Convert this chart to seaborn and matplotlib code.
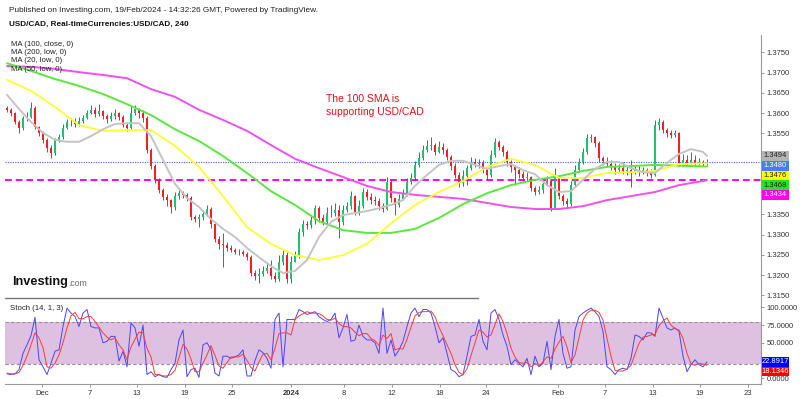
import numpy as np
import matplotlib.pyplot as plt
import seaborn as sns
from matplotlib.patches import Rectangle
from matplotlib.lines import Line2D
from matplotlib.ticker import FormatStrFormatter


# USD/CAD 4H candles (3 candles per trading day)

first_open = 1.3612
close = [
    1.3608, 1.3600, 1.3578, 1.3563, 1.3588, 1.3590, 1.3612, 1.3565, 1.3551, 1.3534,
    1.3514, 1.3501, 1.3534, 1.3541, 1.3563, 1.3578, 1.3578, 1.3573, 1.3580, 1.3588,
    1.3600, 1.3608, 1.3598, 1.3605, 1.3593, 1.3585, 1.3593, 1.3600, 1.3590, 1.3570,
    1.3563, 1.3600, 1.3610, 1.3600, 1.3588, 1.3509, 1.3469, 1.3435, 1.3410, 1.3393,
    1.3385, 1.3368, 1.3395, 1.3402, 1.3398, 1.3390, 1.3343, 1.3338, 1.3343, 1.3351,
    1.3363, 1.3326, 1.3289, 1.3277, 1.3274, 1.3267, 1.3262, 1.3257, 1.3257, 1.3252,
    1.3244, 1.3205, 1.3198, 1.3203, 1.3210, 1.3217, 1.3198, 1.3190, 1.3232, 1.3249,
    1.3190, 1.3232, 1.3249, 1.3306, 1.3326, 1.3323, 1.3336, 1.3365, 1.3341, 1.3331,
    1.3353, 1.3353, 1.3361, 1.3331, 1.3361, 1.3370, 1.3395, 1.3356, 1.3370, 1.3405,
    1.3393, 1.3385, 1.3383, 1.3370, 1.3363, 1.3430, 1.3390, 1.3373, 1.3388, 1.3400,
    1.3430, 1.3440, 1.3472, 1.3489, 1.3509, 1.3519, 1.3521, 1.3504, 1.3516, 1.3509,
    1.3491, 1.3469, 1.3447, 1.3427, 1.3444, 1.3464, 1.3479, 1.3474, 1.3477, 1.3459,
    1.3447, 1.3496, 1.3529, 1.3516, 1.3504, 1.3479, 1.3467, 1.3459, 1.3449, 1.3440,
    1.3442, 1.3415, 1.3405, 1.3410, 1.3425, 1.3432, 1.3365, 1.3442, 1.3395, 1.3383,
    1.3375, 1.3422, 1.3459, 1.3479, 1.3504, 1.3538, 1.3541, 1.3526, 1.3489, 1.3482,
    1.3474, 1.3467, 1.3459, 1.3464, 1.3457, 1.3459, 1.3454, 1.3459, 1.3454, 1.3459,
    1.3452, 1.3447, 1.3570, 1.3578, 1.3558, 1.3551, 1.3546, 1.3551, 1.3477, 1.3484,
    1.3477, 1.3484, 1.3477, 1.3479, 1.3474, 1.3480]
high = [
    1.3617, 1.3612, 1.3603, 1.3583, 1.3593, 1.3603, 1.3627, 1.3617, 1.3568, 1.3556,
    1.3538, 1.3521, 1.3538, 1.3548, 1.3573, 1.3585, 1.3588, 1.3588, 1.3590, 1.3595,
    1.3608, 1.3620, 1.3615, 1.3622, 1.3608, 1.3598, 1.3603, 1.3610, 1.3603, 1.3595,
    1.3578, 1.3617, 1.3620, 1.3612, 1.3608, 1.3593, 1.3514, 1.3474, 1.3440, 1.3415,
    1.3400, 1.3388, 1.3405, 1.3410, 1.3407, 1.3402, 1.3395, 1.3348, 1.3351, 1.3361,
    1.3373, 1.3368, 1.3331, 1.3296, 1.3304, 1.3282, 1.3274, 1.3267, 1.3264, 1.3262,
    1.3257, 1.3249, 1.3212, 1.3217, 1.3222, 1.3232, 1.3237, 1.3207, 1.3249, 1.3262,
    1.3257, 1.3247, 1.3259, 1.3316, 1.3336, 1.3333, 1.3348, 1.3373, 1.3370, 1.3351,
    1.3368, 1.3373, 1.3378, 1.3373, 1.3373, 1.3380, 1.3407, 1.3398, 1.3385, 1.3415,
    1.3412, 1.3402, 1.3395, 1.3390, 1.3378, 1.3442, 1.3435, 1.3390, 1.3400, 1.3412,
    1.3440, 1.3452, 1.3482, 1.3504, 1.3521, 1.3534, 1.3541, 1.3526, 1.3531, 1.3526,
    1.3514, 1.3496, 1.3477, 1.3454, 1.3459, 1.3472, 1.3491, 1.3489, 1.3487, 1.3484,
    1.3464, 1.3509, 1.3538, 1.3534, 1.3521, 1.3509, 1.3484, 1.3472, 1.3467, 1.3457,
    1.3454, 1.3444, 1.3420, 1.3420, 1.3435, 1.3444, 1.3435, 1.3464, 1.3447, 1.3400,
    1.3390, 1.3432, 1.3472, 1.3489, 1.3514, 1.3548, 1.3548, 1.3543, 1.3531, 1.3494,
    1.3491, 1.3484, 1.3477, 1.3474, 1.3479, 1.3472, 1.3484, 1.3469, 1.3472, 1.3467,
    1.3464, 1.3462, 1.3583, 1.3588, 1.3583, 1.3563, 1.3558, 1.3558, 1.3553, 1.3499,
    1.3496, 1.3504, 1.3496, 1.3489, 1.3484, 1.3487]
low = [
    1.3603, 1.3593, 1.3573, 1.3551, 1.3558, 1.3580, 1.3588, 1.3560, 1.3543, 1.3526,
    1.3504, 1.3489, 1.3496, 1.3529, 1.3536, 1.3560, 1.3568, 1.3565, 1.3568, 1.3575,
    1.3585, 1.3598, 1.3590, 1.3593, 1.3585, 1.3575, 1.3580, 1.3585, 1.3583, 1.3565,
    1.3556, 1.3558, 1.3595, 1.3588, 1.3578, 1.3501, 1.3462, 1.3427, 1.3402, 1.3385,
    1.3370, 1.3353, 1.3361, 1.3388, 1.3390, 1.3383, 1.3336, 1.3331, 1.3318, 1.3336,
    1.3346, 1.3316, 1.3282, 1.3264, 1.3220, 1.3259, 1.3257, 1.3252, 1.3249, 1.3247,
    1.3237, 1.3198, 1.3188, 1.3180, 1.3198, 1.3205, 1.3190, 1.3183, 1.3185, 1.3225,
    1.3180, 1.3180, 1.3232, 1.3242, 1.3296, 1.3314, 1.3316, 1.3326, 1.3331, 1.3323,
    1.3326, 1.3343, 1.3346, 1.3291, 1.3323, 1.3356, 1.3363, 1.3348, 1.3348, 1.3365,
    1.3385, 1.3375, 1.3373, 1.3361, 1.3356, 1.3361, 1.3380, 1.3348, 1.3368, 1.3385,
    1.3395, 1.3425, 1.3435, 1.3467, 1.3484, 1.3504, 1.3509, 1.3496, 1.3501, 1.3499,
    1.3484, 1.3459, 1.3440, 1.3417, 1.3420, 1.3422, 1.3459, 1.3467, 1.3464, 1.3452,
    1.3435, 1.3442, 1.3491, 1.3509, 1.3494, 1.3469, 1.3454, 1.3422, 1.3440, 1.3432,
    1.3432, 1.3407, 1.3398, 1.3400, 1.3402, 1.3420, 1.3358, 1.3365, 1.3388, 1.3373,
    1.3368, 1.3370, 1.3417, 1.3454, 1.3474, 1.3499, 1.3529, 1.3516, 1.3479, 1.3472,
    1.3467, 1.3459, 1.3449, 1.3454, 1.3449, 1.3447, 1.3417, 1.3449, 1.3444, 1.3449,
    1.3444, 1.3440, 1.3444, 1.3558, 1.3551, 1.3541, 1.3538, 1.3541, 1.3469, 1.3469,
    1.3469, 1.3474, 1.3472, 1.3472, 1.3469, 1.3472]

# moving averages, sampled at candle indices
ma_idx = list(range(0, 169, 6)) + [175]
ma200 = [1.3716, 1.3714, 1.3709, 1.3701, 1.3694, 1.3686, 1.3659, 1.3640, 1.3608, 1.3583,
         1.3556, 1.3521, 1.3487, 1.3464, 1.3442, 1.3420, 1.3405, 1.3398, 1.3393, 1.3388,
         1.3378, 1.3368, 1.3363, 1.3363, 1.3370, 1.3385, 1.3395, 1.3405, 1.3422, 1.3434]
ma100 = [1.3723, 1.3704, 1.3684, 1.3667, 1.3647, 1.3622, 1.3595, 1.3560, 1.3531, 1.3494,
         1.3452, 1.3407, 1.3373, 1.3333, 1.3311, 1.3304, 1.3304, 1.3314, 1.3341, 1.3375,
         1.3402, 1.3422, 1.3435, 1.3444, 1.3457, 1.3467, 1.3469, 1.3472, 1.3470, 1.3468]
ma50 = [1.3682, 1.3655, 1.3615, 1.3570, 1.3556, 1.3558, 1.3558, 1.3519, 1.3467, 1.3395,
        1.3318, 1.3277, 1.3249, 1.3237, 1.3249, 1.3277, 1.3328, 1.3373, 1.3405, 1.3432,
        1.3467, 1.3487, 1.3472, 1.3440, 1.3440, 1.3452, 1.3454, 1.3457, 1.3474, 1.3476]
ma20_idx = list(range(0, 175, 3)) + [175]
ma20 = [1.3645, 1.3610, 1.3578, 1.3551, 1.3534, 1.3529, 1.3529, 1.3543, 1.3560, 1.3573,
        1.3575, 1.3575, 1.3543, 1.3484, 1.3425, 1.3390, 1.3368, 1.3338, 1.3314, 1.3294,
        1.3267, 1.3244, 1.3222, 1.3205, 1.3210, 1.3237, 1.3294, 1.3331, 1.3348, 1.3353,
        1.3358, 1.3365, 1.3373, 1.3385, 1.3420, 1.3447, 1.3472, 1.3482, 1.3482, 1.3472,
        1.3462, 1.3469, 1.3474, 1.3459, 1.3449, 1.3422, 1.3405, 1.3407, 1.3435, 1.3462,
        1.3479, 1.3479, 1.3464, 1.3454, 1.3452, 1.3477, 1.3499, 1.3511, 1.3504, 1.3494]

# stochastic (14, 1, 3)
stoch_k = [
    6, 5, 6, 12, 35, 47, 60, 86, 26, 16,
    5, 21, 38, 40, 73, 99, 92, 87, 73, 92,
    97, 73, 71, 71, 50, 52, 59, 59, 24, 38,
    16, 78, 71, 45, 75, 5, 9, 2, 5, 2,
    1, 12, 21, 54, 68, 2, 12, 14, 1, 47,
    50, 40, 7, 3, 31, 31, 28, 30, 33, 40,
    3, 3, 25, 40, 36, 28, 14, 83, 92, 16,
    83, 83, 83, 97, 94, 90, 92, 94, 87, 83,
    80, 83, 92, 57, 71, 90, 52, 54, 75, 59,
    54, 54, 50, 35, 99, 35, 54, 31, 40, 52,
    73, 92, 99, 87, 97, 97, 92, 73, 50, 57,
    35, 12, 9, 2, 5, 31, 59, 61, 83, 52,
    40, 92, 97, 83, 61, 45, 19, 26, 21, 16,
    28, 5, 31, 16, 21, 52, 12, 59, 83, 35,
    14, 16, 68, 87, 92, 96, 99, 94, 87, 66,
    16, 12, 5, 12, 14, 12, 28, 61, 59, 54,
    64, 64, 59, 99, 85, 71, 68, 71, 66, 31,
    9, 19, 26, 19, 16, 22.8917]
stoch_d = [
    7, 6, 6, 8, 18, 31, 47, 64, 57, 43,
    16, 14, 21, 33, 50, 71, 88, 93, 84, 84,
    87, 87, 80, 72, 64, 58, 54, 57, 47, 40,
    26, 44, 55, 65, 64, 42, 30, 5, 5, 3,
    3, 5, 11, 29, 48, 41, 27, 9, 9, 21,
    33, 46, 32, 17, 14, 22, 30, 30, 30, 34,
    25, 15, 10, 23, 34, 35, 26, 42, 63, 64,
    64, 61, 83, 88, 91, 94, 92, 92, 91, 88,
    83, 82, 85, 77, 73, 73, 71, 65, 60, 63,
    63, 56, 53, 46, 61, 56, 63, 40, 42, 41,
    55, 72, 88, 93, 94, 94, 95, 87, 72, 60,
    47, 35, 19, 8, 5, 13, 32, 50, 68, 65,
    58, 61, 76, 91, 80, 63, 42, 30, 22, 21,
    22, 16, 21, 17, 23, 30, 28, 41, 51, 59,
    44, 22, 33, 57, 82, 92, 96, 96, 93, 82,
    56, 31, 11, 10, 10, 13, 18, 34, 49, 58,
    59, 61, 62, 74, 81, 85, 75, 70, 68, 56,
    35, 20, 18, 21, 20, 18.1346]

tick_labels = ['Dec', '7', '13', '19', '25', '2024', '8', '12', '18', '24',
               'Feb', '7', '13', '19', '23']
tick_pos = [8.75, 20.75, 32.5, 44.5, 56.25, 71, 84.25, 96.25, 108.25, 119.75,
            137.75, 149.5, 161.5, 173.25, 185.25]
# price levels whose labels are not hidden behind the value boxes
price_ticks = [1.3150, 1.3200, 1.3250, 1.3300, 1.3350, 1.3550, 1.3600, 1.3650, 1.3700, 1.3750]
stoch_ticks = [0, 50, 75, 100]


sns.set_theme(style="white")
plt.rcParams['font.family'] = ['Liberation Sans', 'DejaVu Sans']

W, H = 800, 399
fig = plt.figure(figsize=(8, 3.99), dpi=100)
ax = fig.add_axes([5 / W, 1 - 298 / H, 756 / W, 263 / H])
ax2 = fig.add_axes([5 / W, 1 - 384 / H, 756 / W, 85 / H])

# candles
x = np.arange(len(close))
c = np.array(close)
o = np.array([first_open] + close[:-1])
up = c >= o
ax.vlines(x, low, high, color='#3a5445', lw=0.6, zorder=2)
ax.bar(x, np.maximum(np.abs(c - o), 0.00008), bottom=np.minimum(c, o), width=0.72,
       color=np.where(up, '#1ec46b', '#ff1c1c'), linewidth=0, zorder=3)

ax.axhline(close[-1], color='#3c64f0', lw=0.8, ls=(0, (1, 1.2)), zorder=1)
ax.axhline(ma200[-1], color='#ff00ff', lw=1.4, ls=(0, (3.5, 2)), zorder=1)

sns.lineplot(x=ma_idx, y=ma200, ax=ax, color='#f050f0', lw=1.4, zorder=4)
sns.lineplot(x=ma_idx, y=ma100, ax=ax, color='#5ae83e', lw=1.4, zorder=4)
sns.lineplot(x=ma_idx, y=ma50, ax=ax, color='#ffff30', lw=1.3, zorder=4)
sns.lineplot(x=ma20_idx, y=ma20, ax=ax, color='#c4c4c4', lw=1.4, zorder=4)

ax.set_xlim(-0.5, 188.5)
ax.set_ylim(1.31433, 1.37927)
ax.set_xticks([])
ax.yaxis.tick_right()
ax.set_yticks(price_ticks)
ax.yaxis.set_major_formatter(FormatStrFormatter('%.4f'))
ax.tick_params(axis='y', right=True, left=False, length=2.5, width=0.6, color='#888',
               labelsize=5.5, labelcolor='#333', pad=1.5)
for s in ['top', 'left', 'bottom']:
    ax.spines[s].set_visible(False)
ax.spines['right'].set_color('#999')
ax.spines['right'].set_linewidth(0.8)
ax.set_xlabel('')
ax.set_ylabel('')

# stochastic panel
ax2.axhspan(20, 80, color='#dec0e0', lw=0, zorder=0)
for lv in (20, 80):
    ax2.axhline(lv, color='#9c8c9c', lw=0.8, ls=(0, (3, 2)), zorder=1)
sns.lineplot(x=x, y=stoch_k, ax=ax2, color='#4646ff', lw=0.7)
sns.lineplot(x=x, y=stoch_d, ax=ax2, color='#ff3a3a', lw=0.7)
ax2.set_xlim(-0.5, 188.5)
ax2.set_ylim(-8.35, 111.9)
ax2.yaxis.tick_right()
ax2.set_yticks(stoch_ticks)
ax2.yaxis.set_major_formatter(FormatStrFormatter('%.4f'))
ax2.tick_params(axis='y', right=True, left=False, length=2.5, width=0.6, color='#888',
                labelsize=5.5, labelcolor='#333', pad=1.5)
ax2.set_xticks(tick_pos, tick_labels)
ax2.tick_params(axis='x', bottom=True, length=2.5, width=0.6, color='#888',
                labelsize=5.5, labelcolor='#333', pad=1.5)
for lab in ax2.get_xticklabels():
    if lab.get_text() == '2024':
        lab.set_fontweight('bold')
ax2.spines['top'].set_visible(False)
ax2.spines['left'].set_visible(False)
for s in ['right', 'bottom']:
    ax2.spines[s].set_color('#999')
    ax2.spines[s].set_linewidth(0.8)
ax2.set_xlabel('')
ax2.set_ylabel('')

fig.add_artist(Line2D([5 / W, 478 / W], [1 - 298 / H] * 2, color='#777', lw=1))


# value boxes on the right axis
def value_boxes(axis, items, h_px):
    prev = None
    for val, fc, tc in items:
        yd = axis.transData.transform((0, val))[1]
        if prev is not None:
            yd = min(yd, prev - h_px)
        prev = yd
        fig.add_artist(Rectangle((762 / W, (yd - h_px / 2) / H), 27 / W, h_px / H,
                                 transform=fig.transFigure, fc=fc, ec='none', zorder=5))
        fig.text(775.5 / W, yd / H, f'{val:.4f}', ha='center', va='center',
                 color=tc, fontsize=5.4, zorder=6)


value_boxes(ax, [(ma20[-1], '#b4b4b4', '#222'), (close[-1], '#4a7cf0', 'white'),
                 (ma50[-1], '#ffff00', '#222'), (ma100[-1], '#22e622', '#222'),
                 (ma200[-1], '#ff00ff', 'white')], 9.7)
value_boxes(ax2, [(stoch_k[-1], '#0000ff', 'white'), (stoch_d[-1], '#ff0000', 'white')], 9.4)

# texts
fig.text(9 / W, 1 - 10 / H, 'Published on Investing.com, 19/Feb/2024 - 14:32:26 GMT, Powered by TradingView.',
         fontsize=5.95, color='#222', va='center')
fig.text(9 / W, 1 - 24 / H, 'USD/CAD, Real-timeCurrencies:USD/CAD, 240',
         fontsize=5.85, fontweight='bold', color='#111', va='center')
for i, t in enumerate(['MA (100, close, 0)', 'MA (200, low, 0)', 'MA (20, low, 0)', 'MA (50, low, 0)']):
    fig.text(11 / W, 1 - (44 + 8.4 * i) / H, t, fontsize=5.6, color='#222', va='center')
fig.text(326 / W, 1 - 99 / H, 'The 100 SMA is', color='#e8101a', fontsize=7.5, va='center')
fig.text(326 / W, 1 - 112 / H, 'supporting USD/CAD', color='#e8101a', fontsize=7.5, va='center')
fig.text(10 / W, 1 - 308 / H, 'Stoch (14, 1, 3)', fontsize=5.6, color='#222', va='center')

logo = fig.text(12 / W, 1 - 282 / H, 'Investing', fontsize=9.2, fontweight='bold',
                color='#111', va='center')
fig.canvas.draw()
bb = logo.get_window_extent(fig.canvas.get_renderer())
fig.text(bb.x1 / W, 1 - 283 / H, '.com', fontsize=6.2, color='#666', va='center')

fig.savefig('out.png', dpi=100)
